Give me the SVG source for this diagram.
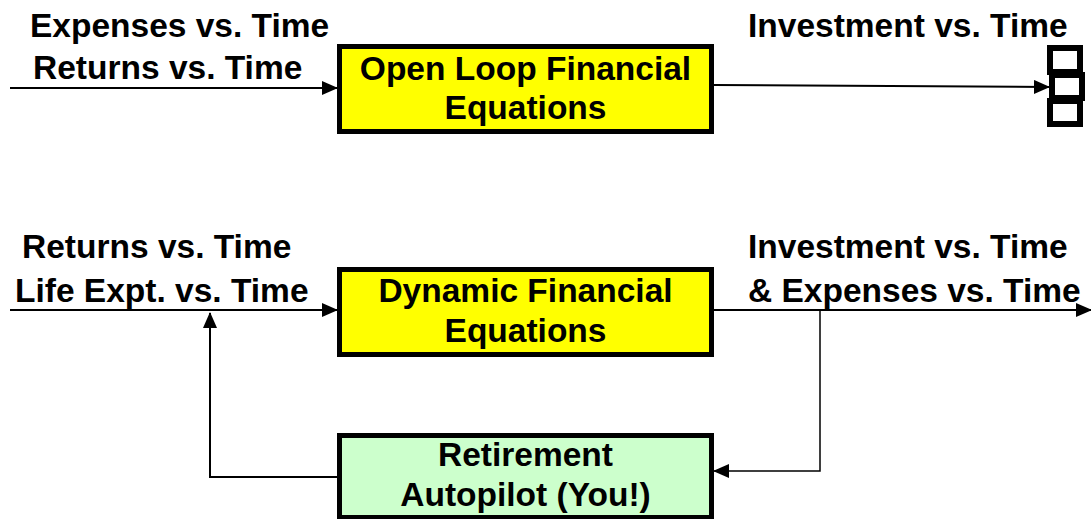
<svg xmlns="http://www.w3.org/2000/svg" width="1091" height="519" viewBox="0 0 1091 519">
<style>
text{font-family:"Liberation Sans",Arial,sans-serif;font-weight:bold;font-size:33.5px;fill:#000}
.c{text-anchor:middle}
.box{stroke:#000;stroke-width:5}
.ln{stroke:#000;stroke-width:2;fill:none}
.thin{stroke:#000;stroke-width:1.5;fill:none}
</style>
<defs>
<marker id="ah" markerWidth="8" markerHeight="8" refX="7" refY="4" orient="auto" markerUnits="userSpaceOnUse" viewBox="0 0 8 8">
<path d="M0,0 L8,4 L0,8 Z" fill="#000"/>
</marker>
<marker id="ahb" markerWidth="16" markerHeight="14" refX="15" refY="7" orient="auto" markerUnits="userSpaceOnUse" viewBox="0 0 16 14">
<path d="M0,0 L16,7 L0,14 Z" fill="#000"/>
</marker>
</defs>
<g id="labels">
<text x="30" y="37">Expenses vs. Time</text>
<text x="33" y="79">Returns vs. Time</text>
<text x="748" y="37">Investment vs. Time</text>
<text x="22" y="258">Returns vs. Time</text>
<text x="15" y="302">Life Expt. vs. Time</text>
<text x="748" y="258">Investment vs. Time</text>
<text x="748" y="302">&amp; Expenses vs. Time</text>
</g>
<g id="connectors">
<line class="ln" x1="10" y1="88" x2="337" y2="88" marker-end="url(#ahb)"/>
<line class="ln" x1="714" y1="85" x2="1049" y2="87" marker-end="url(#ahb)"/>
<line class="ln" x1="10" y1="310" x2="337" y2="310" marker-end="url(#ahb)"/>
<line class="ln" x1="710" y1="310" x2="1091" y2="310" marker-end="url(#ahb)"/>
<polyline class="thin" points="820,311 820,471 714,471" marker-end="url(#ahb)"/>
<polyline class="ln" points="337,477 210,477 210,313" marker-end="url(#ahb)"/>
</g>
<g id="open-loop">
<rect class="box" x="339.5" y="46.5" width="372" height="85" fill="#FFFF00"/>
<text class="c" x="525.5" y="80">Open Loop Financial</text>
<text class="c" x="525.5" y="119">Equations</text>
</g>
<g id="dynamic">
<rect class="box" x="339.5" y="269.5" width="372" height="85" fill="#FFFF00"/>
<text class="c" x="525.5" y="302">Dynamic Financial</text>
<text class="c" x="525.5" y="342">Equations</text>
</g>
<g id="autopilot">
<rect class="box" x="339.5" y="435.5" width="372" height="82" fill="#CCFFCC"/>
<text class="c" x="525.5" y="466">Retirement</text>
<text class="c" x="525.5" y="506">Autopilot (You!)</text>
</g>
<g id="output-stack" fill="#fff" stroke="#000" stroke-width="6">
<rect x="1050" y="48" width="30" height="24"/>
<rect x="1052" y="75" width="30" height="23"/>
<rect x="1050" y="101" width="30" height="23"/>
</g>
</svg>
